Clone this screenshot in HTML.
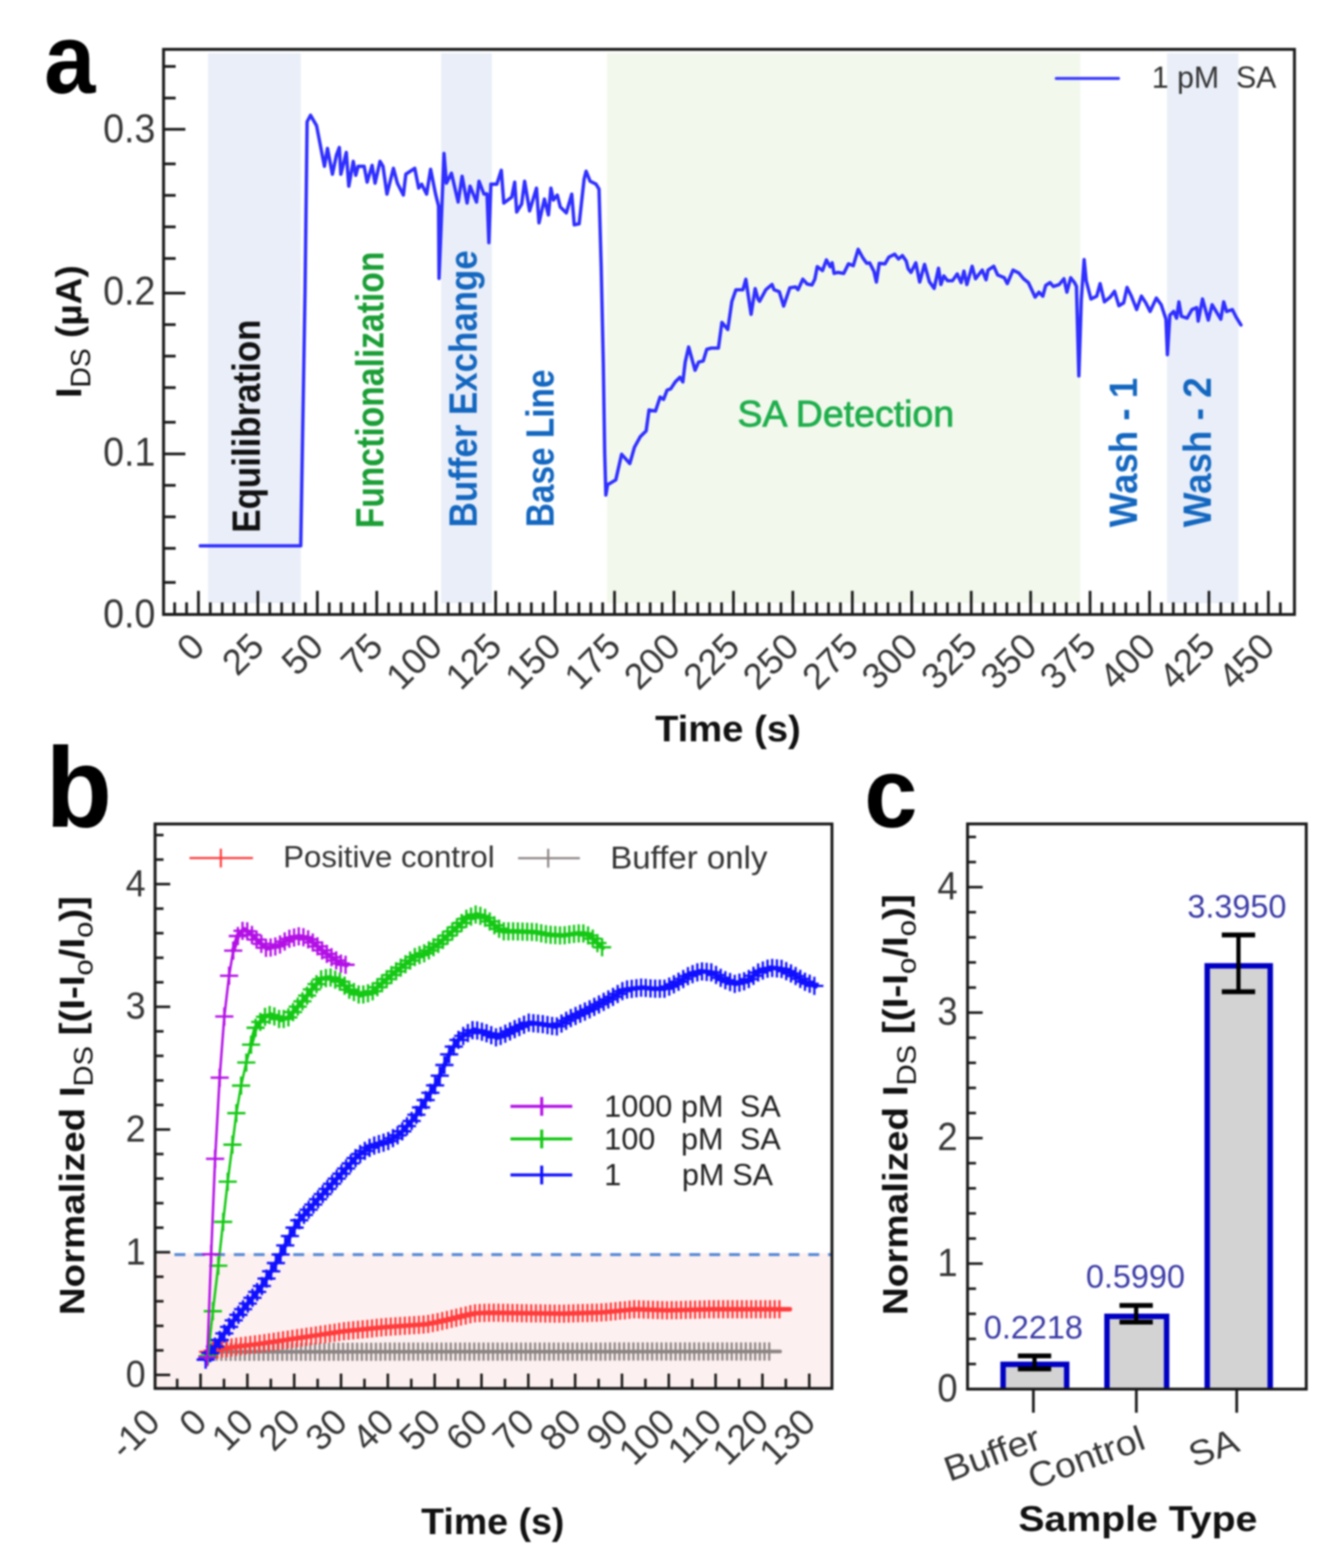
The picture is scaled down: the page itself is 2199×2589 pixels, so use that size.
<!DOCTYPE html>
<html><head><meta charset="utf-8"><title>Figure</title>
<style>
html,body{margin:0;padding:0;background:#fff;}
svg{display:block;filter:blur(1.5px);}
svg text{font-family:'Liberation Sans', Arial, sans-serif;}
</style></head>
<body>
<svg width="2199" height="2589" viewBox="0 0 2199 2589">
<rect width="2199" height="2589" fill="#fff"/>
<rect x="343.5" y="88" width="153.0" height="908" fill="#e9eef8"/>
<rect x="728.4" y="88" width="83.6" height="908" fill="#e9eef8"/>
<rect x="1002" y="88" width="781.4" height="908" fill="#f2f8ec"/>
<rect x="1926.6" y="88" width="117.9" height="908" fill="#e9eef8"/>
<line x1="270" y1="1014.6" x2="306" y2="1014.6" stroke="#1a1a1a" stroke-width="4.5" />
<line x1="270" y1="961.7" x2="290" y2="961.7" stroke="#1a1a1a" stroke-width="4.5" />
<line x1="270" y1="905.4" x2="290" y2="905.4" stroke="#1a1a1a" stroke-width="4.5" />
<line x1="270" y1="853.4" x2="290" y2="853.4" stroke="#1a1a1a" stroke-width="4.5" />
<line x1="270" y1="801.4" x2="290" y2="801.4" stroke="#1a1a1a" stroke-width="4.5" />
<line x1="270" y1="749.4" x2="306" y2="749.4" stroke="#1a1a1a" stroke-width="4.5" />
<line x1="270" y1="697.2" x2="290" y2="697.2" stroke="#1a1a1a" stroke-width="4.5" />
<line x1="270" y1="640" x2="290" y2="640" stroke="#1a1a1a" stroke-width="4.5" />
<line x1="270" y1="588" x2="290" y2="588" stroke="#1a1a1a" stroke-width="4.5" />
<line x1="270" y1="536" x2="290" y2="536" stroke="#1a1a1a" stroke-width="4.5" />
<line x1="270" y1="484" x2="306" y2="484" stroke="#1a1a1a" stroke-width="4.5" />
<line x1="270" y1="426.8" x2="290" y2="426.8" stroke="#1a1a1a" stroke-width="4.5" />
<line x1="270" y1="374.6" x2="290" y2="374.6" stroke="#1a1a1a" stroke-width="4.5" />
<line x1="270" y1="322.6" x2="290" y2="322.6" stroke="#1a1a1a" stroke-width="4.5" />
<line x1="270" y1="270.6" x2="290" y2="270.6" stroke="#1a1a1a" stroke-width="4.5" />
<line x1="270" y1="213.4" x2="306" y2="213.4" stroke="#1a1a1a" stroke-width="4.5" />
<line x1="270" y1="161.9" x2="290" y2="161.9" stroke="#1a1a1a" stroke-width="4.5" />
<line x1="270" y1="109.7" x2="290" y2="109.7" stroke="#1a1a1a" stroke-width="4.5" />
<text transform="translate(256.5,1035.5) scale(0.970,1.040)" font-size="64" text-anchor="end" fill="#363636" >0.0</text>
<text transform="translate(256.5,768.6) scale(0.970,1.040)" font-size="64" text-anchor="end" fill="#363636" >0.1</text>
<text transform="translate(256.5,502.7) scale(0.970,1.040)" font-size="64" text-anchor="end" fill="#363636" >0.2</text>
<text transform="translate(256.5,235.2) scale(0.970,1.040)" font-size="64" text-anchor="end" fill="#363636" >0.3</text>
<line x1="288.3" y1="1014.6" x2="288.3" y2="994.6" stroke="#1a1a1a" stroke-width="4.5" />
<line x1="308" y1="1014.6" x2="308" y2="994.6" stroke="#1a1a1a" stroke-width="4.5" />
<line x1="327.6" y1="1014.6" x2="327.6" y2="975.6" stroke="#1a1a1a" stroke-width="4.5" />
<line x1="347.2" y1="1014.6" x2="347.2" y2="994.6" stroke="#1a1a1a" stroke-width="4.5" />
<line x1="366.9" y1="1014.6" x2="366.9" y2="994.6" stroke="#1a1a1a" stroke-width="4.5" />
<line x1="386.5" y1="1014.6" x2="386.5" y2="994.6" stroke="#1a1a1a" stroke-width="4.5" />
<line x1="406.1" y1="1014.6" x2="406.1" y2="994.6" stroke="#1a1a1a" stroke-width="4.5" />
<line x1="425.7" y1="1014.6" x2="425.7" y2="975.6" stroke="#1a1a1a" stroke-width="4.5" />
<line x1="445.4" y1="1014.6" x2="445.4" y2="994.6" stroke="#1a1a1a" stroke-width="4.5" />
<line x1="465" y1="1014.6" x2="465" y2="994.6" stroke="#1a1a1a" stroke-width="4.5" />
<line x1="484.6" y1="1014.6" x2="484.6" y2="994.6" stroke="#1a1a1a" stroke-width="4.5" />
<line x1="504.2" y1="1014.6" x2="504.2" y2="994.6" stroke="#1a1a1a" stroke-width="4.5" />
<line x1="523.9" y1="1014.6" x2="523.9" y2="975.6" stroke="#1a1a1a" stroke-width="4.5" />
<line x1="543.5" y1="1014.6" x2="543.5" y2="994.6" stroke="#1a1a1a" stroke-width="4.5" />
<line x1="563.1" y1="1014.6" x2="563.1" y2="994.6" stroke="#1a1a1a" stroke-width="4.5" />
<line x1="582.8" y1="1014.6" x2="582.8" y2="994.6" stroke="#1a1a1a" stroke-width="4.5" />
<line x1="602.4" y1="1014.6" x2="602.4" y2="994.6" stroke="#1a1a1a" stroke-width="4.5" />
<line x1="622" y1="1014.6" x2="622" y2="975.6" stroke="#1a1a1a" stroke-width="4.5" />
<line x1="641.6" y1="1014.6" x2="641.6" y2="994.6" stroke="#1a1a1a" stroke-width="4.5" />
<line x1="661.3" y1="1014.6" x2="661.3" y2="994.6" stroke="#1a1a1a" stroke-width="4.5" />
<line x1="680.9" y1="1014.6" x2="680.9" y2="994.6" stroke="#1a1a1a" stroke-width="4.5" />
<line x1="700.5" y1="1014.6" x2="700.5" y2="994.6" stroke="#1a1a1a" stroke-width="4.5" />
<line x1="720.1" y1="1014.6" x2="720.1" y2="975.6" stroke="#1a1a1a" stroke-width="4.5" />
<line x1="739.8" y1="1014.6" x2="739.8" y2="994.6" stroke="#1a1a1a" stroke-width="4.5" />
<line x1="759.4" y1="1014.6" x2="759.4" y2="994.6" stroke="#1a1a1a" stroke-width="4.5" />
<line x1="779" y1="1014.6" x2="779" y2="994.6" stroke="#1a1a1a" stroke-width="4.5" />
<line x1="798.6" y1="1014.6" x2="798.6" y2="994.6" stroke="#1a1a1a" stroke-width="4.5" />
<line x1="818.3" y1="1014.6" x2="818.3" y2="975.6" stroke="#1a1a1a" stroke-width="4.5" />
<line x1="837.9" y1="1014.6" x2="837.9" y2="994.6" stroke="#1a1a1a" stroke-width="4.5" />
<line x1="857.5" y1="1014.6" x2="857.5" y2="994.6" stroke="#1a1a1a" stroke-width="4.5" />
<line x1="877.2" y1="1014.6" x2="877.2" y2="994.6" stroke="#1a1a1a" stroke-width="4.5" />
<line x1="896.8" y1="1014.6" x2="896.8" y2="994.6" stroke="#1a1a1a" stroke-width="4.5" />
<line x1="916.4" y1="1014.6" x2="916.4" y2="975.6" stroke="#1a1a1a" stroke-width="4.5" />
<line x1="936" y1="1014.6" x2="936" y2="994.6" stroke="#1a1a1a" stroke-width="4.5" />
<line x1="955.7" y1="1014.6" x2="955.7" y2="994.6" stroke="#1a1a1a" stroke-width="4.5" />
<line x1="975.3" y1="1014.6" x2="975.3" y2="994.6" stroke="#1a1a1a" stroke-width="4.5" />
<line x1="994.9" y1="1014.6" x2="994.9" y2="994.6" stroke="#1a1a1a" stroke-width="4.5" />
<line x1="1014.5" y1="1014.6" x2="1014.5" y2="975.6" stroke="#1a1a1a" stroke-width="4.5" />
<line x1="1034.2" y1="1014.6" x2="1034.2" y2="994.6" stroke="#1a1a1a" stroke-width="4.5" />
<line x1="1053.8" y1="1014.6" x2="1053.8" y2="994.6" stroke="#1a1a1a" stroke-width="4.5" />
<line x1="1073.4" y1="1014.6" x2="1073.4" y2="994.6" stroke="#1a1a1a" stroke-width="4.5" />
<line x1="1093.1" y1="1014.6" x2="1093.1" y2="994.6" stroke="#1a1a1a" stroke-width="4.5" />
<line x1="1112.7" y1="1014.6" x2="1112.7" y2="975.6" stroke="#1a1a1a" stroke-width="4.5" />
<line x1="1132.3" y1="1014.6" x2="1132.3" y2="994.6" stroke="#1a1a1a" stroke-width="4.5" />
<line x1="1151.9" y1="1014.6" x2="1151.9" y2="994.6" stroke="#1a1a1a" stroke-width="4.5" />
<line x1="1171.6" y1="1014.6" x2="1171.6" y2="994.6" stroke="#1a1a1a" stroke-width="4.5" />
<line x1="1191.2" y1="1014.6" x2="1191.2" y2="994.6" stroke="#1a1a1a" stroke-width="4.5" />
<line x1="1210.8" y1="1014.6" x2="1210.8" y2="975.6" stroke="#1a1a1a" stroke-width="4.5" />
<line x1="1230.4" y1="1014.6" x2="1230.4" y2="994.6" stroke="#1a1a1a" stroke-width="4.5" />
<line x1="1250.1" y1="1014.6" x2="1250.1" y2="994.6" stroke="#1a1a1a" stroke-width="4.5" />
<line x1="1269.7" y1="1014.6" x2="1269.7" y2="994.6" stroke="#1a1a1a" stroke-width="4.5" />
<line x1="1289.3" y1="1014.6" x2="1289.3" y2="994.6" stroke="#1a1a1a" stroke-width="4.5" />
<line x1="1308.9" y1="1014.6" x2="1308.9" y2="975.6" stroke="#1a1a1a" stroke-width="4.5" />
<line x1="1328.6" y1="1014.6" x2="1328.6" y2="994.6" stroke="#1a1a1a" stroke-width="4.5" />
<line x1="1348.2" y1="1014.6" x2="1348.2" y2="994.6" stroke="#1a1a1a" stroke-width="4.5" />
<line x1="1367.8" y1="1014.6" x2="1367.8" y2="994.6" stroke="#1a1a1a" stroke-width="4.5" />
<line x1="1387.5" y1="1014.6" x2="1387.5" y2="994.6" stroke="#1a1a1a" stroke-width="4.5" />
<line x1="1407.1" y1="1014.6" x2="1407.1" y2="975.6" stroke="#1a1a1a" stroke-width="4.5" />
<line x1="1426.7" y1="1014.6" x2="1426.7" y2="994.6" stroke="#1a1a1a" stroke-width="4.5" />
<line x1="1446.3" y1="1014.6" x2="1446.3" y2="994.6" stroke="#1a1a1a" stroke-width="4.5" />
<line x1="1466" y1="1014.6" x2="1466" y2="994.6" stroke="#1a1a1a" stroke-width="4.5" />
<line x1="1485.6" y1="1014.6" x2="1485.6" y2="994.6" stroke="#1a1a1a" stroke-width="4.5" />
<line x1="1505.2" y1="1014.6" x2="1505.2" y2="975.6" stroke="#1a1a1a" stroke-width="4.5" />
<line x1="1524.8" y1="1014.6" x2="1524.8" y2="994.6" stroke="#1a1a1a" stroke-width="4.5" />
<line x1="1544.5" y1="1014.6" x2="1544.5" y2="994.6" stroke="#1a1a1a" stroke-width="4.5" />
<line x1="1564.1" y1="1014.6" x2="1564.1" y2="994.6" stroke="#1a1a1a" stroke-width="4.5" />
<line x1="1583.7" y1="1014.6" x2="1583.7" y2="994.6" stroke="#1a1a1a" stroke-width="4.5" />
<line x1="1603.4" y1="1014.6" x2="1603.4" y2="975.6" stroke="#1a1a1a" stroke-width="4.5" />
<line x1="1623" y1="1014.6" x2="1623" y2="994.6" stroke="#1a1a1a" stroke-width="4.5" />
<line x1="1642.6" y1="1014.6" x2="1642.6" y2="994.6" stroke="#1a1a1a" stroke-width="4.5" />
<line x1="1662.2" y1="1014.6" x2="1662.2" y2="994.6" stroke="#1a1a1a" stroke-width="4.5" />
<line x1="1681.9" y1="1014.6" x2="1681.9" y2="994.6" stroke="#1a1a1a" stroke-width="4.5" />
<line x1="1701.5" y1="1014.6" x2="1701.5" y2="975.6" stroke="#1a1a1a" stroke-width="4.5" />
<line x1="1721.1" y1="1014.6" x2="1721.1" y2="994.6" stroke="#1a1a1a" stroke-width="4.5" />
<line x1="1740.7" y1="1014.6" x2="1740.7" y2="994.6" stroke="#1a1a1a" stroke-width="4.5" />
<line x1="1760.4" y1="1014.6" x2="1760.4" y2="994.6" stroke="#1a1a1a" stroke-width="4.5" />
<line x1="1780" y1="1014.6" x2="1780" y2="994.6" stroke="#1a1a1a" stroke-width="4.5" />
<line x1="1799.6" y1="1014.6" x2="1799.6" y2="975.6" stroke="#1a1a1a" stroke-width="4.5" />
<line x1="1819.3" y1="1014.6" x2="1819.3" y2="994.6" stroke="#1a1a1a" stroke-width="4.5" />
<line x1="1838.9" y1="1014.6" x2="1838.9" y2="994.6" stroke="#1a1a1a" stroke-width="4.5" />
<line x1="1858.5" y1="1014.6" x2="1858.5" y2="994.6" stroke="#1a1a1a" stroke-width="4.5" />
<line x1="1878.1" y1="1014.6" x2="1878.1" y2="994.6" stroke="#1a1a1a" stroke-width="4.5" />
<line x1="1897.8" y1="1014.6" x2="1897.8" y2="975.6" stroke="#1a1a1a" stroke-width="4.5" />
<line x1="1917.4" y1="1014.6" x2="1917.4" y2="994.6" stroke="#1a1a1a" stroke-width="4.5" />
<line x1="1937" y1="1014.6" x2="1937" y2="994.6" stroke="#1a1a1a" stroke-width="4.5" />
<line x1="1956.6" y1="1014.6" x2="1956.6" y2="994.6" stroke="#1a1a1a" stroke-width="4.5" />
<line x1="1976.3" y1="1014.6" x2="1976.3" y2="994.6" stroke="#1a1a1a" stroke-width="4.5" />
<line x1="1995.9" y1="1014.6" x2="1995.9" y2="975.6" stroke="#1a1a1a" stroke-width="4.5" />
<line x1="2015.5" y1="1014.6" x2="2015.5" y2="994.6" stroke="#1a1a1a" stroke-width="4.5" />
<line x1="2035.1" y1="1014.6" x2="2035.1" y2="994.6" stroke="#1a1a1a" stroke-width="4.5" />
<line x1="2054.8" y1="1014.6" x2="2054.8" y2="994.6" stroke="#1a1a1a" stroke-width="4.5" />
<line x1="2074.4" y1="1014.6" x2="2074.4" y2="994.6" stroke="#1a1a1a" stroke-width="4.5" />
<line x1="2094" y1="1014.6" x2="2094" y2="975.6" stroke="#1a1a1a" stroke-width="4.5" />
<line x1="2113.7" y1="1014.6" x2="2113.7" y2="994.6" stroke="#1a1a1a" stroke-width="4.5" />
<text transform="translate(340.9,1071) rotate(-45)" font-size="60" text-anchor="end" fill="#363636" >0</text>
<text transform="translate(439,1071) rotate(-45)" font-size="60" text-anchor="end" fill="#363636" >25</text>
<text transform="translate(537.2,1071) rotate(-45)" font-size="60" text-anchor="end" fill="#363636" >50</text>
<text transform="translate(635.3,1071) rotate(-45)" font-size="60" text-anchor="end" fill="#363636" >75</text>
<text transform="translate(733.4,1071) rotate(-45)" font-size="60" text-anchor="end" fill="#363636" >100</text>
<text transform="translate(831.6,1071) rotate(-45)" font-size="60" text-anchor="end" fill="#363636" >125</text>
<text transform="translate(929.7,1071) rotate(-45)" font-size="60" text-anchor="end" fill="#363636" >150</text>
<text transform="translate(1027.8,1071) rotate(-45)" font-size="60" text-anchor="end" fill="#363636" >175</text>
<text transform="translate(1126,1071) rotate(-45)" font-size="60" text-anchor="end" fill="#363636" >200</text>
<text transform="translate(1224.1,1071) rotate(-45)" font-size="60" text-anchor="end" fill="#363636" >225</text>
<text transform="translate(1322.2,1071) rotate(-45)" font-size="60" text-anchor="end" fill="#363636" >250</text>
<text transform="translate(1420.4,1071) rotate(-45)" font-size="60" text-anchor="end" fill="#363636" >275</text>
<text transform="translate(1518.5,1071) rotate(-45)" font-size="60" text-anchor="end" fill="#363636" >300</text>
<text transform="translate(1616.7,1071) rotate(-45)" font-size="60" text-anchor="end" fill="#363636" >325</text>
<text transform="translate(1714.8,1071) rotate(-45)" font-size="60" text-anchor="end" fill="#363636" >350</text>
<text transform="translate(1812.9,1071) rotate(-45)" font-size="60" text-anchor="end" fill="#363636" >375</text>
<text transform="translate(1911.1,1071) rotate(-45)" font-size="60" text-anchor="end" fill="#363636" >400</text>
<text transform="translate(2009.2,1071) rotate(-45)" font-size="60" text-anchor="end" fill="#363636" >425</text>
<text transform="translate(2107.3,1071) rotate(-45)" font-size="60" text-anchor="end" fill="#363636" >450</text>
<rect x="270" y="81.5" width="1867" height="933.1" fill="none" stroke="#1a1a1a" stroke-width="4.8"/>
<polyline points="330.7,901.2 496.5,901.2 503.6,480.0 507.0,201.0 512.7,190.3 522.6,207.5 532.4,258.2 535.7,274.6 540.6,245.1 548.8,287.7 555.3,256.6 560.2,243.5 562.7,287.7 571.7,251.7 575.8,307.4 583.2,266.4 587.3,289.4 591.3,274.6 601.2,274.6 606.1,300.8 614.3,273.0 619.2,302.5 627.4,266.4 632.3,274.6 638.8,320.5 649.5,277.9 656.0,302.5 665.9,322.1 670.0,287.7 684.7,277.9 691.2,310.6 696.1,304.1 704.3,320.5 710.9,279.5 719.1,320.5 724.0,340.1 724.8,459.7 733.0,253.3 737.0,302.5 745.3,286.0 756.4,333.6 762.9,291.0 771.1,335.2 776.0,307.4 786.7,333.6 790.8,299.2 799.0,320.5 804.0,320.0 807.1,400.7 810.4,304.1 820.2,304.1 827.6,281.2 831.7,335.2 844.8,325.4 849.7,300.8 853.0,350.0 861.2,336.8 866.1,299.2 874.3,348.3 885.7,310.6 889.8,368.0 898.8,328.7 905.4,354.9 909.5,310.6 913.6,330.3 920.1,322.1 925.0,341.8 934.9,351.6 943.9,320.5 948.0,371.2 956.1,369.6 964.3,295.9 967.6,282.8 974.2,299.2 984.0,304.1 988.9,312.3 992.5,440.0 996.0,600.0 998.3,748.1 1000.2,817.4 1003.1,800.1 1007.0,798.2 1016.6,792.4 1026.2,750.0 1039.7,765.4 1047.4,738.5 1057.0,721.1 1066.7,711.5 1071.5,676.9 1082.1,678.8 1089.8,655.7 1095.5,659.5 1101.3,644.1 1107.1,642.2 1114.8,630.6 1122.5,622.9 1127.3,630.6 1131.2,597.9 1136.9,572.9 1147.5,611.4 1153.3,597.9 1161.0,596.0 1166.8,576.7 1174.5,574.8 1186.0,574.8 1191.8,532.4 1201.5,544.0 1208.2,497.8 1214.9,478.5 1226.5,478.5 1231.3,461.2 1240.0,519.0 1246.7,476.6 1251.5,493.9 1254.0,497.5 1264.3,478.4 1274.6,469.7 1277.8,478.4 1286.5,481.6 1293.7,505.4 1304.0,475.2 1313.5,473.7 1317.5,478.4 1325.4,461.0 1332.5,468.9 1340.5,470.5 1345.2,461.0 1349.2,440.3 1357.9,446.7 1364.3,429.2 1370.6,440.3 1373.8,434.0 1377.0,451.4 1383.3,449.8 1392.9,451.4 1400.8,435.6 1408.7,438.7 1416.7,411.7 1424.6,426.0 1431.0,434.8 1435.7,434.0 1442.9,448.3 1446.8,465.7 1451.6,434.8 1461.1,435.6 1467.5,424.4 1477.0,419.7 1483.3,427.6 1489.7,422.0 1496.0,430.8 1499.2,443.5 1504.0,449.8 1511.9,434.0 1518.3,465.7 1526.3,436.5 1534.3,465.1 1542.2,476.2 1549.4,442.9 1553.3,469.8 1558.1,455.6 1564.4,463.5 1572.4,463.5 1580.3,452.4 1586.7,466.7 1591.4,447.6 1596.2,469.8 1604.9,439.7 1610.5,460.3 1621.6,446.0 1627.9,461.9 1631.1,446.0 1640.6,439.7 1647.0,454.0 1658.1,458.7 1662.9,468.3 1672.4,446.0 1681.9,450.8 1689.8,460.3 1697.8,466.7 1708.9,490.5 1715.2,482.5 1721.6,488.9 1726.3,471.4 1733.5,466.7 1739.0,473.0 1748.6,469.8 1756.5,460.3 1761.3,482.5 1767.6,458.7 1774.0,466.7 1777.1,473.0 1781.1,620.6 1785.1,495.2 1789.8,428.6 1793.2,463.5 1801.1,493.7 1810.6,488.9 1816.2,468.3 1823.3,498.4 1832.9,490.5 1840.0,481.0 1847.1,504.8 1855.1,500.0 1860.6,474.6 1867.8,488.9 1876.5,511.1 1884.4,488.9 1891.6,500.0 1898.7,514.3 1909.0,492.1 1917.0,503.2 1924.9,527.0 1927.3,585.7 1931.3,520.6 1937.6,514.3 1942.4,525.4 1946.3,498.4 1950.3,522.2 1959.8,525.4 1967.8,511.1 1975.7,507.9 1978.1,530.2 1985.2,493.7 1994.8,528.6 2001.1,503.2 2015.4,527.0 2020.2,498.4 2024.9,514.3 2034.4,511.1 2040.8,523.8 2048.7,536.5" fill="none" stroke="#2f2fff" stroke-width="5.6" stroke-linejoin="round" stroke-linecap="round" stroke-linejoin="miter" stroke-miterlimit="3"/>
<line x1="1743.8" y1="129.6" x2="1846.5" y2="129.6" stroke="#3c3cff" stroke-width="5" stroke-linecap="round"/>
<text transform="translate(1901.5,145)" font-size="50" text-anchor="start" fill="#333" >1 pM&#160;&#160;SA</text>
<text transform="translate(428.8,879.5) rotate(-90) scale(0.886,1.000)" font-size="65" font-weight="bold" text-anchor="start" fill="#111" >Equilibration</text>
<text transform="translate(633,872.3) rotate(-90) scale(0.855,1.000)" font-size="65" font-weight="bold" text-anchor="start" fill="#1a9e35" >Functionalization</text>
<text transform="translate(787.2,870.7) rotate(-90) scale(0.886,1.000)" font-size="65" font-weight="bold" text-anchor="start" fill="#1467c0" >Buffer Exchange</text>
<text transform="translate(913.8,870.5) rotate(-90) scale(0.848,1.000)" font-size="65" font-weight="bold" text-anchor="start" fill="#1467c0" >Base Line</text>
<text transform="translate(1876.5,870.5) rotate(-90) scale(0.946,1.000)" font-size="64" font-weight="bold" text-anchor="start" fill="#1467c0" >Wash - 1</text>
<text transform="translate(1998.5,870.5) rotate(-90) scale(0.949,1.000)" font-size="64" font-weight="bold" text-anchor="start" fill="#1467c0" >Wash - 2</text>
<text transform="translate(1217.5,704) scale(0.998,1.000)" font-size="62" text-anchor="start" fill="#1fae4c" stroke="#1fae4c" stroke-width="1.3">SA Detection</text>
<text transform="translate(1081.5,1223.5) scale(1.033,1.000)" font-size="61" font-weight="bold" text-anchor="start" fill="#111" >Time (s)</text>
<text transform="translate(133.7,657) rotate(-90)" font-size="60" font-weight="bold" fill="#111" textLength="219" lengthAdjust="spacingAndGlyphs">I<tspan font-size="46" font-weight="normal" dy="15.6">DS</tspan><tspan dy="-15.6"> (µA)</tspan></text>
<text transform="translate(72.8,153.2) scale(0.929,1.000)" font-size="164" font-weight="bold" text-anchor="start" fill="#000" >a</text>
<rect x="256" y="2069" width="1117.5" height="223.5" fill="#fdf0f0"/>
<line x1="288" y1="2071.6" x2="1373.5" y2="2071.6" stroke="#5a8bd6" stroke-width="5" stroke-dasharray="18,14.7"/>
<line x1="256" y1="2270.2" x2="281" y2="2270.2" stroke="#1a1a1a" stroke-width="4.2" />
<line x1="256" y1="2229.7" x2="270" y2="2229.7" stroke="#1a1a1a" stroke-width="4.2" />
<line x1="256" y1="2189.2" x2="270" y2="2189.2" stroke="#1a1a1a" stroke-width="4.2" />
<line x1="256" y1="2148.6" x2="270" y2="2148.6" stroke="#1a1a1a" stroke-width="4.2" />
<line x1="256" y1="2108.1" x2="270" y2="2108.1" stroke="#1a1a1a" stroke-width="4.2" />
<line x1="256" y1="2067.6" x2="281" y2="2067.6" stroke="#1a1a1a" stroke-width="4.2" />
<line x1="256" y1="2027.1" x2="270" y2="2027.1" stroke="#1a1a1a" stroke-width="4.2" />
<line x1="256" y1="1986.6" x2="270" y2="1986.6" stroke="#1a1a1a" stroke-width="4.2" />
<line x1="256" y1="1946" x2="270" y2="1946" stroke="#1a1a1a" stroke-width="4.2" />
<line x1="256" y1="1905.5" x2="270" y2="1905.5" stroke="#1a1a1a" stroke-width="4.2" />
<line x1="256" y1="1865" x2="281" y2="1865" stroke="#1a1a1a" stroke-width="4.2" />
<line x1="256" y1="1824.5" x2="270" y2="1824.5" stroke="#1a1a1a" stroke-width="4.2" />
<line x1="256" y1="1784" x2="270" y2="1784" stroke="#1a1a1a" stroke-width="4.2" />
<line x1="256" y1="1743.4" x2="270" y2="1743.4" stroke="#1a1a1a" stroke-width="4.2" />
<line x1="256" y1="1702.9" x2="270" y2="1702.9" stroke="#1a1a1a" stroke-width="4.2" />
<line x1="256" y1="1662.4" x2="281" y2="1662.4" stroke="#1a1a1a" stroke-width="4.2" />
<line x1="256" y1="1621.9" x2="270" y2="1621.9" stroke="#1a1a1a" stroke-width="4.2" />
<line x1="256" y1="1581.4" x2="270" y2="1581.4" stroke="#1a1a1a" stroke-width="4.2" />
<line x1="256" y1="1540.8" x2="270" y2="1540.8" stroke="#1a1a1a" stroke-width="4.2" />
<line x1="256" y1="1500.3" x2="270" y2="1500.3" stroke="#1a1a1a" stroke-width="4.2" />
<line x1="256" y1="1459.8" x2="281" y2="1459.8" stroke="#1a1a1a" stroke-width="4.2" />
<line x1="256" y1="1419.3" x2="270" y2="1419.3" stroke="#1a1a1a" stroke-width="4.2" />
<line x1="256" y1="1378.8" x2="270" y2="1378.8" stroke="#1a1a1a" stroke-width="4.2" />
<text transform="translate(240.5,2290.2) scale(0.970,1.040)" font-size="61" text-anchor="end" fill="#363636" >0</text>
<text transform="translate(240.5,2087.6) scale(0.970,1.040)" font-size="61" text-anchor="end" fill="#363636" >1</text>
<text transform="translate(240.5,1885) scale(0.970,1.040)" font-size="61" text-anchor="end" fill="#363636" >2</text>
<text transform="translate(240.5,1682.4) scale(0.970,1.040)" font-size="61" text-anchor="end" fill="#363636" >3</text>
<text transform="translate(240.5,1479.8) scale(0.970,1.040)" font-size="61" text-anchor="end" fill="#363636" >4</text>
<line x1="292.5" y1="2292.5" x2="292.5" y2="2276.5" stroke="#1a1a1a" stroke-width="4.2" />
<line x1="331.1" y1="2292.5" x2="331.1" y2="2268" stroke="#1a1a1a" stroke-width="4.2" />
<line x1="369.8" y1="2292.5" x2="369.8" y2="2276.5" stroke="#1a1a1a" stroke-width="4.2" />
<line x1="408.4" y1="2292.5" x2="408.4" y2="2268" stroke="#1a1a1a" stroke-width="4.2" />
<line x1="447.1" y1="2292.5" x2="447.1" y2="2276.5" stroke="#1a1a1a" stroke-width="4.2" />
<line x1="485.7" y1="2292.5" x2="485.7" y2="2268" stroke="#1a1a1a" stroke-width="4.2" />
<line x1="524.4" y1="2292.5" x2="524.4" y2="2276.5" stroke="#1a1a1a" stroke-width="4.2" />
<line x1="563" y1="2292.5" x2="563" y2="2268" stroke="#1a1a1a" stroke-width="4.2" />
<line x1="601.7" y1="2292.5" x2="601.7" y2="2276.5" stroke="#1a1a1a" stroke-width="4.2" />
<line x1="640.3" y1="2292.5" x2="640.3" y2="2268" stroke="#1a1a1a" stroke-width="4.2" />
<line x1="679" y1="2292.5" x2="679" y2="2276.5" stroke="#1a1a1a" stroke-width="4.2" />
<line x1="717.6" y1="2292.5" x2="717.6" y2="2268" stroke="#1a1a1a" stroke-width="4.2" />
<line x1="756.2" y1="2292.5" x2="756.2" y2="2276.5" stroke="#1a1a1a" stroke-width="4.2" />
<line x1="794.9" y1="2292.5" x2="794.9" y2="2268" stroke="#1a1a1a" stroke-width="4.2" />
<line x1="833.6" y1="2292.5" x2="833.6" y2="2276.5" stroke="#1a1a1a" stroke-width="4.2" />
<line x1="872.2" y1="2292.5" x2="872.2" y2="2268" stroke="#1a1a1a" stroke-width="4.2" />
<line x1="910.9" y1="2292.5" x2="910.9" y2="2276.5" stroke="#1a1a1a" stroke-width="4.2" />
<line x1="949.5" y1="2292.5" x2="949.5" y2="2268" stroke="#1a1a1a" stroke-width="4.2" />
<line x1="988.2" y1="2292.5" x2="988.2" y2="2276.5" stroke="#1a1a1a" stroke-width="4.2" />
<line x1="1026.8" y1="2292.5" x2="1026.8" y2="2268" stroke="#1a1a1a" stroke-width="4.2" />
<line x1="1065.5" y1="2292.5" x2="1065.5" y2="2276.5" stroke="#1a1a1a" stroke-width="4.2" />
<line x1="1104.1" y1="2292.5" x2="1104.1" y2="2268" stroke="#1a1a1a" stroke-width="4.2" />
<line x1="1142.8" y1="2292.5" x2="1142.8" y2="2276.5" stroke="#1a1a1a" stroke-width="4.2" />
<line x1="1181.4" y1="2292.5" x2="1181.4" y2="2268" stroke="#1a1a1a" stroke-width="4.2" />
<line x1="1220.1" y1="2292.5" x2="1220.1" y2="2276.5" stroke="#1a1a1a" stroke-width="4.2" />
<line x1="1258.7" y1="2292.5" x2="1258.7" y2="2268" stroke="#1a1a1a" stroke-width="4.2" />
<line x1="1297.3" y1="2292.5" x2="1297.3" y2="2276.5" stroke="#1a1a1a" stroke-width="4.2" />
<line x1="1336" y1="2292.5" x2="1336" y2="2268" stroke="#1a1a1a" stroke-width="4.2" />
<text transform="translate(267.3,2351.5) rotate(-45)" font-size="60" text-anchor="end" fill="#363636" >-10</text>
<text transform="translate(344.6,2351.5) rotate(-45)" font-size="60" text-anchor="end" fill="#363636" >0</text>
<text transform="translate(421.9,2351.5) rotate(-45)" font-size="60" text-anchor="end" fill="#363636" >10</text>
<text transform="translate(499.2,2351.5) rotate(-45)" font-size="60" text-anchor="end" fill="#363636" >20</text>
<text transform="translate(576.5,2351.5) rotate(-45)" font-size="60" text-anchor="end" fill="#363636" >30</text>
<text transform="translate(653.8,2351.5) rotate(-45)" font-size="60" text-anchor="end" fill="#363636" >40</text>
<text transform="translate(731.1,2351.5) rotate(-45)" font-size="60" text-anchor="end" fill="#363636" >50</text>
<text transform="translate(808.4,2351.5) rotate(-45)" font-size="60" text-anchor="end" fill="#363636" >60</text>
<text transform="translate(885.7,2351.5) rotate(-45)" font-size="60" text-anchor="end" fill="#363636" >70</text>
<text transform="translate(963,2351.5) rotate(-45)" font-size="60" text-anchor="end" fill="#363636" >80</text>
<text transform="translate(1040.3,2351.5) rotate(-45)" font-size="60" text-anchor="end" fill="#363636" >90</text>
<text transform="translate(1117.6,2351.5) rotate(-45)" font-size="60" text-anchor="end" fill="#363636" >100</text>
<text transform="translate(1194.9,2351.5) rotate(-45)" font-size="60" text-anchor="end" fill="#363636" >110</text>
<text transform="translate(1272.2,2351.5) rotate(-45)" font-size="60" text-anchor="end" fill="#363636" >120</text>
<text transform="translate(1349.5,2351.5) rotate(-45)" font-size="60" text-anchor="end" fill="#363636" >130</text>
<polyline points="339.5,2238.0 350.0,2232.0 1287.9,2231.5" fill="none" stroke="#8c8484" stroke-width="6" stroke-linejoin="round" stroke-linecap="round" />
<path d="M335.0,2232.0h30M350.0,2217.0v30M342.7,2232.0h30M357.7,2217.0v30M350.5,2232.0h30M365.5,2217.0v30M358.2,2232.0h30M373.2,2217.0v30M365.9,2232.0h30M380.9,2217.0v30M373.7,2232.0h30M388.7,2217.0v30M381.4,2232.0h30M396.4,2217.0v30M389.1,2232.0h30M404.1,2217.0v30M396.8,2232.0h30M411.8,2217.0v30M404.6,2232.0h30M419.6,2217.0v30M412.3,2232.0h30M427.3,2217.0v30M420.0,2232.0h30M435.0,2217.0v30M427.8,2232.0h30M442.8,2217.0v30M435.5,2231.9h30M450.5,2216.9v30M443.2,2231.9h30M458.2,2216.9v30M451.0,2231.9h30M466.0,2216.9v30M458.7,2231.9h30M473.7,2216.9v30M466.4,2231.9h30M481.4,2216.9v30M474.1,2231.9h30M489.1,2216.9v30M481.9,2231.9h30M496.9,2216.9v30M489.6,2231.9h30M504.6,2216.9v30M497.3,2231.9h30M512.3,2216.9v30M505.1,2231.9h30M520.1,2216.9v30M512.8,2231.9h30M527.8,2216.9v30M520.5,2231.9h30M535.5,2216.9v30M528.3,2231.9h30M543.3,2216.9v30M536.0,2231.9h30M551.0,2216.9v30M543.7,2231.9h30M558.7,2216.9v30M551.4,2231.9h30M566.4,2216.9v30M559.2,2231.9h30M574.2,2216.9v30M566.9,2231.9h30M581.9,2216.9v30M574.6,2231.9h30M589.6,2216.9v30M582.4,2231.9h30M597.4,2216.9v30M590.1,2231.9h30M605.1,2216.9v30M597.8,2231.9h30M612.8,2216.9v30M605.6,2231.9h30M620.6,2216.9v30M613.3,2231.9h30M628.3,2216.9v30M621.0,2231.8h30M636.0,2216.8v30M628.7,2231.8h30M643.7,2216.8v30M636.5,2231.8h30M651.5,2216.8v30M644.2,2231.8h30M659.2,2216.8v30M651.9,2231.8h30M666.9,2216.8v30M659.7,2231.8h30M674.7,2216.8v30M667.4,2231.8h30M682.4,2216.8v30M675.1,2231.8h30M690.1,2216.8v30M682.9,2231.8h30M697.9,2216.8v30M690.6,2231.8h30M705.6,2216.8v30M698.3,2231.8h30M713.3,2216.8v30M706.0,2231.8h30M721.0,2216.8v30M713.8,2231.8h30M728.8,2216.8v30M721.5,2231.8h30M736.5,2216.8v30M729.2,2231.8h30M744.2,2216.8v30M737.0,2231.8h30M752.0,2216.8v30M744.7,2231.8h30M759.7,2216.8v30M752.4,2231.8h30M767.4,2216.8v30M760.2,2231.8h30M775.2,2216.8v30M767.9,2231.8h30M782.9,2216.8v30M775.6,2231.8h30M790.6,2216.8v30M783.3,2231.8h30M798.3,2216.8v30M791.1,2231.8h30M806.1,2216.8v30M798.8,2231.8h30M813.8,2216.8v30M806.5,2231.7h30M821.5,2216.7v30M814.3,2231.7h30M829.3,2216.7v30M822.0,2231.7h30M837.0,2216.7v30M829.7,2231.7h30M844.7,2216.7v30M837.5,2231.7h30M852.5,2216.7v30M845.2,2231.7h30M860.2,2216.7v30M852.9,2231.7h30M867.9,2216.7v30M860.6,2231.7h30M875.6,2216.7v30M868.4,2231.7h30M883.4,2216.7v30M876.1,2231.7h30M891.1,2216.7v30M883.8,2231.7h30M898.8,2216.7v30M891.6,2231.7h30M906.6,2216.7v30M899.3,2231.7h30M914.3,2216.7v30M907.0,2231.7h30M922.0,2216.7v30M914.8,2231.7h30M929.8,2216.7v30M922.5,2231.7h30M937.5,2216.7v30M930.2,2231.7h30M945.2,2216.7v30M937.9,2231.7h30M952.9,2216.7v30M945.7,2231.7h30M960.7,2216.7v30M953.4,2231.7h30M968.4,2216.7v30M961.1,2231.7h30M976.1,2216.7v30M968.9,2231.7h30M983.9,2216.7v30M976.6,2231.7h30M991.6,2216.7v30M984.3,2231.7h30M999.3,2216.7v30M992.1,2231.6h30M1007.1,2216.6v30M999.8,2231.6h30M1014.8,2216.6v30M1007.5,2231.6h30M1022.5,2216.6v30M1015.2,2231.6h30M1030.2,2216.6v30M1023.0,2231.6h30M1038.0,2216.6v30M1030.7,2231.6h30M1045.7,2216.6v30M1038.4,2231.6h30M1053.4,2216.6v30M1046.2,2231.6h30M1061.2,2216.6v30M1053.9,2231.6h30M1068.9,2216.6v30M1061.6,2231.6h30M1076.6,2216.6v30M1069.4,2231.6h30M1084.4,2216.6v30M1077.1,2231.6h30M1092.1,2216.6v30M1084.8,2231.6h30M1099.8,2216.6v30M1092.5,2231.6h30M1107.5,2216.6v30M1100.3,2231.6h30M1115.3,2216.6v30M1108.0,2231.6h30M1123.0,2216.6v30M1115.7,2231.6h30M1130.7,2216.6v30M1123.5,2231.6h30M1138.5,2216.6v30M1131.2,2231.6h30M1146.2,2216.6v30M1138.9,2231.6h30M1153.9,2216.6v30M1146.7,2231.6h30M1161.7,2216.6v30M1154.4,2231.6h30M1169.4,2216.6v30M1162.1,2231.6h30M1177.1,2216.6v30M1169.8,2231.6h30M1184.8,2216.6v30M1177.6,2231.6h30M1192.6,2216.6v30M1185.3,2231.5h30M1200.3,2216.5v30M1193.0,2231.5h30M1208.0,2216.5v30M1200.8,2231.5h30M1215.8,2216.5v30M1208.5,2231.5h30M1223.5,2216.5v30M1216.2,2231.5h30M1231.2,2216.5v30M1224.0,2231.5h30M1239.0,2216.5v30M1231.7,2231.5h30M1246.7,2216.5v30M1239.4,2231.5h30M1254.4,2216.5v30M1247.1,2231.5h30M1262.1,2216.5v30M1254.9,2231.5h30M1269.9,2216.5v30" stroke="#8c8484" stroke-width="3.6" fill="none"/>
<polyline points="339.5,2240.0 343.6,2232.0 364.0,2227.0 432.0,2218.4 500.0,2208.2 568.1,2198.0 636.1,2191.2 704.1,2186.6 727.0,2182.0 752.0,2176.0 783.0,2168.5 806.2,2167.4 930.0,2169.1 994.0,2167.1 1048.4,2161.7 1102.8,2163.5 1175.4,2161.7 1248.0,2161.7 1291.5,2161.7 1304.0,2161.7" fill="none" stroke="#ff3b3b" stroke-width="7.5" stroke-linejoin="round" stroke-linecap="round" />
<path d="M328.6,2232.0h30M343.6,2217.0v30M336.3,2230.1h30M351.3,2215.1v30M344.1,2228.2h30M359.1,2213.2v30M351.8,2226.6h30M366.8,2211.6v30M359.5,2225.7h30M374.5,2210.7v30M367.3,2224.7h30M382.3,2209.7v30M375.0,2223.7h30M390.0,2208.7v30M382.7,2222.7h30M397.7,2207.7v30M390.4,2221.8h30M405.4,2206.8v30M398.2,2220.8h30M413.2,2205.8v30M405.9,2219.8h30M420.9,2204.8v30M413.6,2218.8h30M428.6,2203.8v30M421.4,2217.7h30M436.4,2202.7v30M429.1,2216.6h30M444.1,2201.6v30M436.8,2215.4h30M451.8,2200.4v30M444.6,2214.3h30M459.6,2199.3v30M452.3,2213.1h30M467.3,2198.1v30M460.0,2211.9h30M475.0,2196.9v30M467.7,2210.8h30M482.7,2195.8v30M475.5,2209.6h30M490.5,2194.6v30M483.2,2208.5h30M498.2,2193.5v30M490.9,2207.3h30M505.9,2192.3v30M498.7,2206.2h30M513.7,2191.2v30M506.4,2205.0h30M521.4,2190.0v30M514.1,2203.8h30M529.1,2188.8v30M521.9,2202.7h30M536.9,2187.7v30M529.6,2201.5h30M544.6,2186.5v30M537.3,2200.4h30M552.3,2185.4v30M545.0,2199.2h30M560.0,2184.2v30M552.8,2198.0h30M567.8,2183.0v30M560.5,2197.3h30M575.5,2182.3v30M568.2,2196.5h30M583.2,2181.5v30M576.0,2195.7h30M591.0,2180.7v30M583.7,2194.9h30M598.7,2179.9v30M591.4,2194.2h30M606.4,2179.2v30M599.2,2193.4h30M614.2,2178.4v30M606.9,2192.6h30M621.9,2177.6v30M614.6,2191.8h30M629.6,2176.8v30M622.3,2191.1h30M637.3,2176.1v30M630.1,2190.6h30M645.1,2175.6v30M637.8,2190.1h30M652.8,2175.1v30M645.5,2189.5h30M660.5,2174.5v30M653.3,2189.0h30M668.3,2174.0v30M661.0,2188.5h30M676.0,2173.5v30M668.7,2188.0h30M683.7,2173.0v30M676.5,2187.5h30M691.5,2172.5v30M684.2,2186.9h30M699.2,2171.9v30M691.9,2186.0h30M706.9,2171.0v30M699.6,2184.5h30M714.6,2169.5v30M707.4,2182.9h30M722.4,2167.9v30M715.1,2181.3h30M730.1,2166.3v30M722.8,2179.4h30M737.8,2164.4v30M730.6,2177.5h30M745.6,2162.5v30M738.3,2175.7h30M753.3,2160.7v30M746.0,2173.8h30M761.0,2158.8v30M753.8,2171.9h30M768.8,2156.9v30M761.5,2170.1h30M776.5,2155.1v30M769.2,2168.4h30M784.2,2153.4v30M776.9,2168.1h30M791.9,2153.1v30M784.7,2167.7h30M799.7,2152.7v30M792.4,2167.4h30M807.4,2152.4v30M800.1,2167.5h30M815.1,2152.5v30M807.9,2167.6h30M822.9,2152.6v30M815.6,2167.7h30M830.6,2152.7v30M823.3,2167.8h30M838.3,2152.8v30M831.1,2167.9h30M846.1,2152.9v30M838.8,2168.1h30M853.8,2153.1v30M846.5,2168.2h30M861.5,2153.2v30M854.2,2168.3h30M869.2,2153.3v30M862.0,2168.4h30M877.0,2153.4v30M869.7,2168.5h30M884.7,2153.5v30M877.4,2168.6h30M892.4,2153.6v30M885.2,2168.7h30M900.2,2153.7v30M892.9,2168.8h30M907.9,2153.8v30M900.6,2168.9h30M915.6,2153.9v30M908.4,2169.0h30M923.4,2154.0v30M916.1,2169.1h30M931.1,2154.1v30M923.8,2168.8h30M938.8,2153.8v30M931.5,2168.6h30M946.5,2153.6v30M939.3,2168.3h30M954.3,2153.3v30M947.0,2168.1h30M962.0,2153.1v30M954.7,2167.9h30M969.7,2152.9v30M962.5,2167.6h30M977.5,2152.6v30M970.2,2167.4h30M985.2,2152.4v30M977.9,2167.1h30M992.9,2152.1v30M985.7,2166.4h30M1000.7,2151.4v30M993.4,2165.7h30M1008.4,2150.7v30M1001.1,2164.9h30M1016.1,2149.9v30M1008.8,2164.1h30M1023.8,2149.1v30M1016.6,2163.4h30M1031.6,2148.4v30M1024.3,2162.6h30M1039.3,2147.6v30M1032.0,2161.8h30M1047.0,2146.8v30M1039.8,2161.9h30M1054.8,2146.9v30M1047.5,2162.2h30M1062.5,2147.2v30M1055.2,2162.4h30M1070.2,2147.4v30M1063.0,2162.7h30M1078.0,2147.7v30M1070.7,2162.9h30M1085.7,2147.9v30M1078.4,2163.2h30M1093.4,2148.2v30M1086.1,2163.4h30M1101.1,2148.4v30M1093.9,2163.3h30M1108.9,2148.3v30M1101.6,2163.2h30M1116.6,2148.2v30M1109.3,2163.0h30M1124.3,2148.0v30M1117.1,2162.8h30M1132.1,2147.8v30M1124.8,2162.6h30M1139.8,2147.6v30M1132.5,2162.4h30M1147.5,2147.4v30M1140.3,2162.2h30M1155.3,2147.2v30M1148.0,2162.0h30M1163.0,2147.0v30M1155.7,2161.8h30M1170.7,2146.8v30M1163.4,2161.7h30M1178.4,2146.7v30M1171.2,2161.7h30M1186.2,2146.7v30M1178.9,2161.7h30M1193.9,2146.7v30M1186.6,2161.7h30M1201.6,2146.7v30M1194.4,2161.7h30M1209.4,2146.7v30M1202.1,2161.7h30M1217.1,2146.7v30M1209.8,2161.7h30M1224.8,2146.7v30M1217.6,2161.7h30M1232.6,2146.7v30M1225.3,2161.7h30M1240.3,2146.7v30M1233.0,2161.7h30M1248.0,2146.7v30M1240.7,2161.7h30M1255.7,2146.7v30M1248.5,2161.7h30M1263.5,2146.7v30M1256.2,2161.7h30M1271.2,2146.7v30M1263.9,2161.7h30M1278.9,2146.7v30M1271.7,2161.7h30M1286.7,2146.7v30" stroke="#ff3b3b" stroke-width="3.6" fill="none"/>
<polyline points="339.5,2245.0 359.0,2217.7 385.0,2181.3 411.0,2150.1 431.8,2124.1 450.0,2095.5 465.6,2066.9 478.6,2040.9 491.7,2017.5 512.5,1994.1 535.9,1968.1 564.5,1936.9 590.5,1908.2 613.9,1892.6 639.9,1884.8 660.7,1871.8 684.1,1845.8 702.3,1817.2 720.5,1788.6 743.5,1736.2 759.4,1713.6 782.0,1700.0 800.2,1704.5 820.6,1713.6 843.3,1702.2 872.7,1688.6 895.4,1690.9 918.0,1695.4 940.8,1681.8 974.8,1665.9 1008.8,1647.8 1031.5,1634.2 1059.3,1630.6 1078.6,1632.5 1097.8,1632.5 1117.1,1622.9 1136.4,1611.3 1155.7,1603.6 1174.9,1605.5 1194.2,1617.1 1213.5,1624.8 1232.8,1619.0 1252.0,1605.5 1271.3,1597.8 1290.6,1599.8 1309.9,1609.4 1329.1,1621.0 1346.5,1628.7" fill="none" stroke="#1010ff" stroke-width="7.5" stroke-linejoin="round" stroke-linecap="round" />
<path d="M324.5,2245.0h30M339.5,2230.0v30M332.2,2234.2h30M347.2,2219.2v30M340.0,2223.4h30M355.0,2208.4v30M347.7,2212.5h30M362.7,2197.5v30M355.4,2201.7h30M370.4,2186.7v30M363.2,2190.9h30M378.2,2175.9v30M370.9,2180.2h30M385.9,2165.2v30M378.6,2171.0h30M393.6,2156.0v30M386.3,2161.7h30M401.3,2146.7v30M394.1,2152.4h30M409.1,2137.4v30M401.8,2142.8h30M416.8,2127.8v30M409.5,2133.2h30M424.5,2118.2v30M417.3,2123.4h30M432.3,2108.4v30M425.0,2111.2h30M440.0,2096.2v30M432.7,2099.1h30M447.7,2084.1v30M440.5,2085.5h30M455.5,2070.5v30M448.2,2071.3h30M463.2,2056.3v30M455.9,2056.3h30M470.9,2041.3v30M463.6,2040.8h30M478.6,2025.8v30M471.4,2027.0h30M486.4,2012.0v30M479.1,2014.8h30M494.1,1999.8v30M486.8,2006.1h30M501.8,1991.1v30M494.6,1997.4h30M509.6,1982.4v30M502.3,1988.8h30M517.3,1973.8v30M510.0,1980.2h30M525.0,1965.2v30M517.8,1971.6h30M532.8,1956.6v30M525.5,1963.1h30M540.5,1948.1v30M533.2,1954.7h30M548.2,1939.7v30M540.9,1946.2h30M555.9,1931.2v30M548.7,1937.8h30M563.7,1922.8v30M556.4,1929.3h30M571.4,1914.3v30M564.1,1920.8h30M579.1,1905.8v30M571.9,1912.2h30M586.9,1897.2v30M579.6,1905.5h30M594.6,1890.5v30M587.3,1900.3h30M602.3,1885.3v30M595.1,1895.2h30M610.1,1880.2v30M602.8,1891.4h30M617.8,1876.4v30M610.5,1889.1h30M625.5,1874.1v30M618.2,1886.8h30M633.2,1871.8v30M626.0,1884.1h30M641.0,1869.1v30M633.7,1879.3h30M648.7,1864.3v30M641.4,1874.5h30M656.4,1859.5v30M649.2,1868.0h30M664.2,1853.0v30M656.9,1859.4h30M671.9,1844.4v30M664.6,1850.8h30M679.6,1835.8v30M672.4,1840.7h30M687.4,1825.7v30M680.1,1828.5h30M695.1,1813.5v30M687.8,1816.4h30M702.8,1801.4v30M695.5,1804.3h30M710.5,1789.3v30M703.3,1792.1h30M718.3,1777.1v30M711.0,1776.1h30M726.0,1761.1v30M718.7,1758.5h30M733.7,1743.5v30M726.5,1740.8h30M741.5,1725.8v30M734.2,1728.1h30M749.2,1713.1v30M741.9,1717.1h30M756.9,1702.1v30M749.7,1710.4h30M764.7,1695.4v30M757.4,1705.8h30M772.4,1690.8v30M765.1,1701.1h30M780.1,1686.1v30M772.8,1701.4h30M787.8,1686.4v30M780.6,1703.4h30M795.6,1688.4v30M788.3,1705.9h30M803.3,1690.9v30M796.0,1709.3h30M811.0,1694.3v30M803.8,1712.8h30M818.8,1697.8v30M811.5,1710.6h30M826.5,1695.6v30M819.2,1706.8h30M834.2,1691.8v30M827.0,1702.9h30M842.0,1687.9v30M834.7,1699.2h30M849.7,1684.2v30M842.4,1695.7h30M857.4,1680.7v30M850.1,1692.1h30M865.1,1677.1v30M857.9,1688.6h30M872.9,1673.6v30M865.6,1689.4h30M880.6,1674.4v30M873.3,1690.2h30M888.3,1675.2v30M881.1,1691.0h30M896.1,1676.0v30M888.8,1692.6h30M903.8,1677.6v30M896.5,1694.1h30M911.5,1679.1v30M904.3,1694.7h30M919.3,1679.7v30M912.0,1690.0h30M927.0,1675.0v30M919.7,1685.4h30M934.7,1670.4v30M927.4,1681.0h30M942.4,1666.0v30M935.2,1677.4h30M950.2,1662.4v30M942.9,1673.8h30M957.9,1658.8v30M950.6,1670.2h30M965.6,1655.2v30M958.4,1666.6h30M973.4,1651.6v30M966.1,1662.6h30M981.1,1647.6v30M973.8,1658.4h30M988.8,1643.4v30M981.6,1654.3h30M996.6,1639.3v30M989.3,1650.2h30M1004.3,1635.2v30M997.0,1645.9h30M1012.0,1630.9v30M1004.7,1641.2h30M1019.7,1626.2v30M1012.5,1636.6h30M1027.5,1621.6v30M1020.2,1633.7h30M1035.2,1618.7v30M1027.9,1632.7h30M1042.9,1617.7v30M1035.7,1631.7h30M1050.7,1616.7v30M1043.4,1630.7h30M1058.4,1615.7v30M1051.1,1631.3h30M1066.1,1616.3v30M1058.9,1632.0h30M1073.9,1617.0v30M1066.6,1632.5h30M1081.6,1617.5v30M1074.3,1632.5h30M1089.3,1617.5v30M1082.0,1632.5h30M1097.0,1617.5v30M1089.8,1629.0h30M1104.8,1614.0v30M1097.5,1625.2h30M1112.5,1610.2v30M1105.2,1621.0h30M1120.2,1606.0v30M1113.0,1616.4h30M1128.0,1601.4v30M1120.7,1611.7h30M1135.7,1596.7v30M1128.4,1608.5h30M1143.4,1593.5v30M1136.2,1605.4h30M1151.2,1590.4v30M1143.9,1603.9h30M1158.9,1588.9v30M1151.6,1604.7h30M1166.6,1589.7v30M1159.3,1605.4h30M1174.3,1590.4v30M1167.1,1609.8h30M1182.1,1594.8v30M1174.8,1614.5h30M1189.8,1599.5v30M1182.5,1618.4h30M1197.5,1603.4v30M1190.3,1621.5h30M1205.3,1606.5v30M1198.0,1624.6h30M1213.0,1609.6v30M1205.7,1622.6h30M1220.7,1607.6v30M1213.5,1620.3h30M1228.5,1605.3v30M1221.2,1616.6h30M1236.2,1601.6v30M1228.9,1611.2h30M1243.9,1596.2v30M1236.6,1605.8h30M1251.6,1590.8v30M1244.4,1602.6h30M1259.4,1587.6v30M1252.1,1599.5h30M1267.1,1584.5v30M1259.8,1598.2h30M1274.8,1583.2v30M1267.6,1599.0h30M1282.6,1584.0v30M1275.3,1599.8h30M1290.3,1584.8v30M1283.0,1603.5h30M1298.0,1588.5v30M1290.8,1607.3h30M1305.8,1592.3v30M1298.5,1611.6h30M1313.5,1596.6v30M1306.2,1616.2h30M1321.2,1601.2v30M1313.9,1620.9h30M1328.9,1605.9v30M1321.7,1624.3h30M1336.7,1609.3v30M1329.4,1627.8h30M1344.4,1612.8v30" stroke="#1010ff" stroke-width="3.8" fill="none"/>
<polyline points="339.5,2243.7 343.3,2239.0 351.4,2165.0 360.4,2089.9 368.4,2017.5 375.9,1951.2 383.7,1890.0 390.2,1838.0 398.0,1792.5 406.6,1754.4 414.5,1724.9" fill="none" stroke="#14c814" stroke-width="4.0" stroke-linejoin="round" stroke-linecap="round" />
<polyline points="414.5,1724.9 422.0,1697.0 436.0,1679.5 447.4,1675.0 463.3,1684.1 476.9,1679.5 488.2,1666.0 504.1,1647.8 517.7,1629.7 531.3,1616.0 544.9,1613.8 560.8,1620.6 576.6,1634.2 594.8,1643.3 612.9,1638.7 628.8,1625.1 646.9,1609.3 667.3,1593.4 685.5,1579.8 702.7,1573.0 725.4,1557.1 748.0,1536.7 770.7,1516.3 786.6,1509.5 802.4,1516.3 816.0,1527.6 829.7,1537.8 850.1,1537.8 884.1,1539.0 906.8,1543.5 929.4,1544.6 952.1,1541.2 965.7,1541.2 979.3,1550.3 990.7,1561.6 995.2,1565.0" fill="none" stroke="#14c814" stroke-width="7.5" stroke-linejoin="round" stroke-linecap="round" />
<path d="M328.3,2239.0h30M343.3,2224.0v30M336.4,2165.0h30M351.4,2150.0v30M345.4,2089.9h30M360.4,2074.9v30M353.4,2017.5h30M368.4,2002.5v30M360.9,1951.2h30M375.9,1936.2v30M368.7,1890.0h30M383.7,1875.0v30M375.2,1838.0h30M390.2,1823.0v30M383.0,1792.5h30M398.0,1777.5v30M391.6,1754.4h30M406.6,1739.4v30M399.5,1724.9h30M414.5,1709.9v30M407.0,1697.0h30M422.0,1682.0v30M414.7,1687.3h30M429.7,1672.3v30M422.5,1678.9h30M437.5,1663.9v30M430.2,1675.9h30M445.2,1660.9v30M437.9,1678.2h30M452.9,1663.2v30M445.7,1682.6h30M460.7,1667.6v30M453.4,1682.4h30M468.4,1667.4v30M461.1,1679.8h30M476.1,1664.8v30M468.8,1671.2h30M483.8,1656.2v30M476.6,1662.1h30M491.6,1647.1v30M484.3,1653.3h30M499.3,1638.3v30M492.0,1643.9h30M507.0,1628.9v30M499.8,1633.6h30M514.8,1618.6v30M507.5,1624.9h30M522.5,1609.9v30M515.2,1617.1h30M530.2,1602.1v30M523.0,1614.9h30M538.0,1599.9v30M530.7,1614.1h30M545.7,1599.1v30M538.4,1617.4h30M553.4,1602.4v30M546.1,1620.9h30M561.1,1605.9v30M553.9,1627.5h30M568.9,1612.5v30M561.6,1634.2h30M576.6,1619.2v30M569.3,1638.1h30M584.3,1623.1v30M577.1,1641.9h30M592.1,1626.9v30M584.8,1642.0h30M599.8,1627.0v30M592.5,1640.1h30M607.5,1625.1v30M600.3,1636.7h30M615.3,1621.7v30M608.0,1630.1h30M623.0,1615.1v30M615.7,1623.4h30M630.7,1608.4v30M623.4,1616.7h30M638.4,1601.7v30M631.2,1609.9h30M646.2,1594.9v30M638.9,1603.8h30M653.9,1588.8v30M646.6,1597.8h30M661.6,1582.8v30M654.4,1591.9h30M669.4,1576.9v30M662.1,1586.1h30M677.1,1571.1v30M669.8,1580.3h30M684.8,1565.3v30M677.6,1577.0h30M692.6,1562.0v30M685.3,1574.0h30M700.3,1559.0v30M693.0,1569.3h30M708.0,1554.3v30M700.7,1563.9h30M715.7,1548.9v30M708.5,1558.5h30M723.5,1543.5v30M716.2,1551.9h30M731.2,1536.9v30M723.9,1544.9h30M738.9,1529.9v30M731.7,1537.9h30M746.7,1522.9v30M739.4,1531.0h30M754.4,1516.0v30M747.1,1524.0h30M762.1,1509.0v30M754.9,1517.1h30M769.9,1502.1v30M762.6,1513.4h30M777.6,1498.4v30M770.3,1510.1h30M785.3,1495.1v30M778.0,1512.3h30M793.0,1497.3v30M785.8,1515.6h30M800.8,1500.6v30M793.5,1521.4h30M808.5,1506.4v30M801.2,1527.8h30M816.2,1512.8v30M809.0,1533.5h30M824.0,1518.5v30M816.7,1537.8h30M831.7,1522.8v30M824.4,1537.8h30M839.4,1522.8v30M832.2,1537.8h30M847.2,1522.8v30M839.9,1538.0h30M854.9,1523.0v30M847.6,1538.2h30M862.6,1523.2v30M855.3,1538.5h30M870.3,1523.5v30M863.1,1538.8h30M878.1,1523.8v30M870.8,1539.3h30M885.8,1524.3v30M878.5,1540.9h30M893.5,1525.9v30M886.3,1542.4h30M901.3,1527.4v30M894.0,1543.6h30M909.0,1528.6v30M901.7,1544.0h30M916.7,1529.0v30M909.5,1544.4h30M924.5,1529.4v30M917.2,1544.2h30M932.2,1529.2v30M924.9,1543.0h30M939.9,1528.0v30M932.6,1541.9h30M947.6,1526.9v30M940.4,1541.2h30M955.4,1526.2v30M948.1,1541.2h30M963.1,1526.2v30M955.8,1544.6h30M970.8,1529.6v30M963.6,1549.8h30M978.6,1534.8v30M971.3,1557.2h30M986.3,1542.2v30M979.0,1564.1h30M994.0,1549.1v30" stroke="#14c814" stroke-width="3.8" fill="none"/>
<polyline points="339.5,2243.7 342.1,2241.1 348.6,2070.8 355.1,1913.4 362.6,1779.4 370.3,1678.4 378.2,1611.1 385.0,1569.6" fill="none" stroke="#b310e6" stroke-width="4.0" stroke-linejoin="round" stroke-linecap="round" />
<polyline points="385.0,1569.6 393.5,1543.0 403.2,1534.4 413.4,1541.2 427.0,1554.8 440.6,1566.2 458.7,1561.6 476.9,1550.3 492.7,1545.8 504.1,1548.0 517.7,1557.1 533.6,1570.7 549.4,1582.0 563.0,1591.1 572.1,1593.4" fill="none" stroke="#b310e6" stroke-width="7.5" stroke-linejoin="round" stroke-linecap="round" />
<path d="M327.1,2241.1h30M342.1,2226.1v30M333.6,2070.8h30M348.6,2055.8v30M340.1,1913.4h30M355.1,1898.4v30M347.6,1779.4h30M362.6,1764.4v30M355.3,1678.4h30M370.3,1663.4v30M363.2,1611.1h30M378.2,1596.1v30M370.0,1569.6h30M385.0,1554.6v30M377.7,1545.5h30M392.7,1530.5v30M385.4,1536.9h30M400.4,1521.9v30M393.2,1537.7h30M408.2,1522.7v30M400.9,1543.7h30M415.9,1528.7v30M408.6,1551.4h30M423.6,1536.4v30M416.4,1558.4h30M431.4,1543.4v30M424.1,1564.9h30M439.1,1549.9v30M431.8,1564.6h30M446.8,1549.6v30M439.5,1562.7h30M454.5,1547.7v30M447.3,1559.4h30M462.3,1544.4v30M455.0,1554.6h30M470.0,1539.6v30M462.7,1550.1h30M477.7,1535.1v30M470.5,1547.9h30M485.5,1532.9v30M478.2,1545.9h30M493.2,1530.9v30M485.9,1547.4h30M500.9,1532.4v30M493.7,1551.0h30M508.7,1536.0v30M501.4,1556.2h30M516.4,1541.2v30M509.1,1562.6h30M524.1,1547.6v30M516.8,1569.2h30M531.8,1554.2v30M524.6,1575.0h30M539.6,1560.0v30M532.3,1580.5h30M547.3,1565.5v30M540.0,1585.8h30M555.0,1570.8v30M547.8,1590.9h30M562.8,1575.9v30M555.5,1593.0h30M570.5,1578.0v30" stroke="#b310e6" stroke-width="3.8" fill="none"/>
<rect x="256" y="1360.5" width="1117.5" height="932.0" fill="none" stroke="#1a1a1a" stroke-width="4.8"/>
<line x1="312.8" y1="1416.8" x2="417.6" y2="1416.8" stroke="#ff3b3b" stroke-width="3.5" />
<line x1="364.6" y1="1401.3" x2="364.6" y2="1432.3" stroke="#ff3b3b" stroke-width="3.5" />
<text transform="translate(467.4,1432.4) scale(1.030,1.000)" font-size="50" text-anchor="start" fill="#333" >Positive control</text>
<line x1="855.3" y1="1417" x2="957.3" y2="1417" stroke="#8c8484" stroke-width="3.5" />
<line x1="905" y1="1401.5" x2="905" y2="1432.5" stroke="#8c8484" stroke-width="3.5" />
<text transform="translate(1007.4,1433.6) scale(1.069,1.000)" font-size="51" text-anchor="start" fill="#333" >Buffer only</text>
<line x1="842.7" y1="1826.8" x2="944.7" y2="1826.8" stroke="#b310e6" stroke-width="5" />
<line x1="894.3" y1="1811.3" x2="894.3" y2="1842.3" stroke="#b310e6" stroke-width="5" />
<line x1="842.7" y1="1880.6" x2="944.7" y2="1880.6" stroke="#14c814" stroke-width="5" />
<line x1="894.3" y1="1865.1" x2="894.3" y2="1896.1" stroke="#14c814" stroke-width="5" />
<line x1="842.7" y1="1940.1" x2="944.7" y2="1940.1" stroke="#1010ff" stroke-width="5" />
<line x1="894.3" y1="1924.6" x2="894.3" y2="1955.6" stroke="#1010ff" stroke-width="5" />
<text transform="translate(997.6,1843.8)" font-size="50.5" text-anchor="start" fill="#222" >1000</text>
<text transform="translate(997.6,1897.6)" font-size="50.5" text-anchor="start" fill="#222" >100</text>
<text transform="translate(997.6,1957.2)" font-size="50.5" text-anchor="start" fill="#222" >1</text>
<text transform="translate(1124.2,1843.8)" font-size="50.5" text-anchor="start" fill="#222" >pM</text>
<text transform="translate(1221.6,1843.8)" font-size="50.5" text-anchor="start" fill="#222" >SA</text>
<text transform="translate(1124.2,1897.6)" font-size="50.5" text-anchor="start" fill="#222" >pM</text>
<text transform="translate(1221.6,1897.6)" font-size="50.5" text-anchor="start" fill="#222" >SA</text>
<text transform="translate(1125.7,1957.2)" font-size="50.5" text-anchor="start" fill="#222" >pM</text>
<text transform="translate(1208.9,1957.2)" font-size="50.5" text-anchor="start" fill="#222" >SA</text>
<text transform="translate(695.3,2532.5) scale(1.016,1.000)" font-size="61" font-weight="bold" text-anchor="start" fill="#111" >Time (s)</text>
<text id="ytb" transform="translate(139.2,2171.5) rotate(-90)" font-size="58" font-weight="bold" fill="#111" textLength="692" lengthAdjust="spacingAndGlyphs">Normalized I<tspan font-size="44" font-weight="normal" dy="14">DS</tspan><tspan dy="-14"> [(I-I</tspan><tspan font-size="44" font-weight="normal" dy="14">o</tspan><tspan dy="-14">/I</tspan><tspan font-size="44" font-weight="normal" dy="14">o</tspan><tspan dy="-14">)]</tspan></text>
<text transform="translate(75.3,1364.8) scale(0.960,1.000)" font-size="187" font-weight="bold" text-anchor="start" fill="#000" >b</text>
<line x1="1597.3" y1="2252.2" x2="1611.3" y2="2252.2" stroke="#1a1a1a" stroke-width="4.2" />
<line x1="1597.3" y1="2210.7" x2="1611.3" y2="2210.7" stroke="#1a1a1a" stroke-width="4.2" />
<line x1="1597.3" y1="2169.3" x2="1611.3" y2="2169.3" stroke="#1a1a1a" stroke-width="4.2" />
<line x1="1597.3" y1="2127.8" x2="1611.3" y2="2127.8" stroke="#1a1a1a" stroke-width="4.2" />
<line x1="1597.3" y1="2086.4" x2="1622.3" y2="2086.4" stroke="#1a1a1a" stroke-width="4.2" />
<line x1="1597.3" y1="2045" x2="1611.3" y2="2045" stroke="#1a1a1a" stroke-width="4.2" />
<line x1="1597.3" y1="2003.5" x2="1611.3" y2="2003.5" stroke="#1a1a1a" stroke-width="4.2" />
<line x1="1597.3" y1="1962.1" x2="1611.3" y2="1962.1" stroke="#1a1a1a" stroke-width="4.2" />
<line x1="1597.3" y1="1920.6" x2="1611.3" y2="1920.6" stroke="#1a1a1a" stroke-width="4.2" />
<line x1="1597.3" y1="1879.2" x2="1622.3" y2="1879.2" stroke="#1a1a1a" stroke-width="4.2" />
<line x1="1597.3" y1="1837.8" x2="1611.3" y2="1837.8" stroke="#1a1a1a" stroke-width="4.2" />
<line x1="1597.3" y1="1796.3" x2="1611.3" y2="1796.3" stroke="#1a1a1a" stroke-width="4.2" />
<line x1="1597.3" y1="1754.9" x2="1611.3" y2="1754.9" stroke="#1a1a1a" stroke-width="4.2" />
<line x1="1597.3" y1="1713.4" x2="1611.3" y2="1713.4" stroke="#1a1a1a" stroke-width="4.2" />
<line x1="1597.3" y1="1672" x2="1622.3" y2="1672" stroke="#1a1a1a" stroke-width="4.2" />
<line x1="1597.3" y1="1630.6" x2="1611.3" y2="1630.6" stroke="#1a1a1a" stroke-width="4.2" />
<line x1="1597.3" y1="1589.1" x2="1611.3" y2="1589.1" stroke="#1a1a1a" stroke-width="4.2" />
<line x1="1597.3" y1="1547.7" x2="1611.3" y2="1547.7" stroke="#1a1a1a" stroke-width="4.2" />
<line x1="1597.3" y1="1506.2" x2="1611.3" y2="1506.2" stroke="#1a1a1a" stroke-width="4.2" />
<line x1="1597.3" y1="1464.8" x2="1622.3" y2="1464.8" stroke="#1a1a1a" stroke-width="4.2" />
<line x1="1597.3" y1="1423.4" x2="1611.3" y2="1423.4" stroke="#1a1a1a" stroke-width="4.2" />
<line x1="1597.3" y1="1381.9" x2="1611.3" y2="1381.9" stroke="#1a1a1a" stroke-width="4.2" />
<text transform="translate(1581,2313.8) scale(0.970,1.040)" font-size="62" text-anchor="end" fill="#363636" >0</text>
<text transform="translate(1581,2106.6) scale(0.970,1.040)" font-size="62" text-anchor="end" fill="#363636" >1</text>
<text transform="translate(1581,1899.4) scale(0.970,1.040)" font-size="62" text-anchor="end" fill="#363636" >2</text>
<text transform="translate(1581,1692.2) scale(0.970,1.040)" font-size="62" text-anchor="end" fill="#363636" >3</text>
<text transform="translate(1581,1485) scale(0.970,1.040)" font-size="62" text-anchor="end" fill="#363636" >4</text>
<line x1="1706" y1="2293.6" x2="1706" y2="2332.6" stroke="#1a1a1a" stroke-width="4.5" />
<line x1="1876" y1="2293.6" x2="1876" y2="2332.6" stroke="#1a1a1a" stroke-width="4.5" />
<line x1="2041.7" y1="2293.6" x2="2041.7" y2="2332.6" stroke="#1a1a1a" stroke-width="4.5" />
<rect x="1656" y="2252.8" width="105" height="40.79999999999973" fill="#d3d3d3"/>
<path d="M1656,2293.6V2252.8H1761V2293.6" fill="none" stroke="#0000c4" stroke-width="9"/>
<rect x="1827.5" y="2173.4" width="98.5" height="120.19999999999982" fill="#d3d3d3"/>
<path d="M1827.5,2293.6V2173.4H1926V2293.6" fill="none" stroke="#0000c4" stroke-width="9"/>
<rect x="1993" y="1594.7" width="104" height="698.8999999999999" fill="#d3d3d3"/>
<path d="M1993,2293.6V1594.7H2097V2293.6" fill="none" stroke="#0000c4" stroke-width="9"/>
<line x1="1707.9" y1="2238.8" x2="1707.9" y2="2260.2" stroke="#000" stroke-width="7" />
<line x1="1680.4" y1="2238.8" x2="1735.4" y2="2238.8" stroke="#000" stroke-width="8" />
<line x1="1680.4" y1="2260.2" x2="1735.4" y2="2260.2" stroke="#000" stroke-width="8" />
<line x1="1875.7" y1="2155.5" x2="1875.7" y2="2182.9" stroke="#000" stroke-width="7" />
<line x1="1848.2" y1="2155.5" x2="1903.2" y2="2155.5" stroke="#000" stroke-width="8" />
<line x1="1848.2" y1="2182.9" x2="1903.2" y2="2182.9" stroke="#000" stroke-width="8" />
<line x1="2044.6" y1="1543.7" x2="2044.6" y2="1637.6" stroke="#000" stroke-width="7" />
<line x1="2017.1" y1="1543.7" x2="2072.1" y2="1543.7" stroke="#000" stroke-width="8" />
<line x1="2017.1" y1="1637.6" x2="2072.1" y2="1637.6" stroke="#000" stroke-width="8" />
<rect x="1597.3" y="1360.4" width="559.2" height="933.1999999999998" fill="none" stroke="#1a1a1a" stroke-width="4.8"/>
<text transform="translate(1706,2209.6)" font-size="53.5" text-anchor="middle" fill="#3b3ba6" >0.2218</text>
<text transform="translate(1874.5,2126.3)" font-size="53.5" text-anchor="middle" fill="#3b3ba6" >0.5990</text>
<text transform="translate(2042,1514.5)" font-size="53.5" text-anchor="middle" fill="#3b3ba6" >3.3950</text>
<text transform="translate(1722,2390.6) rotate(-20) scale(1.070,1.000)" font-size="58" text-anchor="end" fill="#363636" >Buffer</text>
<text transform="translate(1894,2391) rotate(-20) scale(1.070,1.000)" font-size="58" text-anchor="end" fill="#363636" >Control</text>
<text transform="translate(2049,2395) rotate(-20) scale(1.070,1.000)" font-size="58" text-anchor="end" fill="#363636" >SA</text>
<text transform="translate(1681.2,2528) scale(1.079,1.000)" font-size="60" font-weight="bold" text-anchor="start" fill="#111" >Sample Type</text>
<text id="ytc" transform="translate(1498,2171.5) rotate(-90)" font-size="58" font-weight="bold" fill="#111" textLength="695" lengthAdjust="spacingAndGlyphs">Normalized I<tspan font-size="44" font-weight="normal" dy="14">DS</tspan><tspan dy="-14"> [(I-I</tspan><tspan font-size="44" font-weight="normal" dy="14">o</tspan><tspan dy="-14">/I</tspan><tspan font-size="44" font-weight="normal" dy="14">o</tspan><tspan dy="-14">)]</tspan></text>
<text transform="translate(1426.7,1365.2) scale(0.966,1.000)" font-size="163.5" font-weight="bold" text-anchor="start" fill="#000" >c</text>
</svg>
</body></html>
